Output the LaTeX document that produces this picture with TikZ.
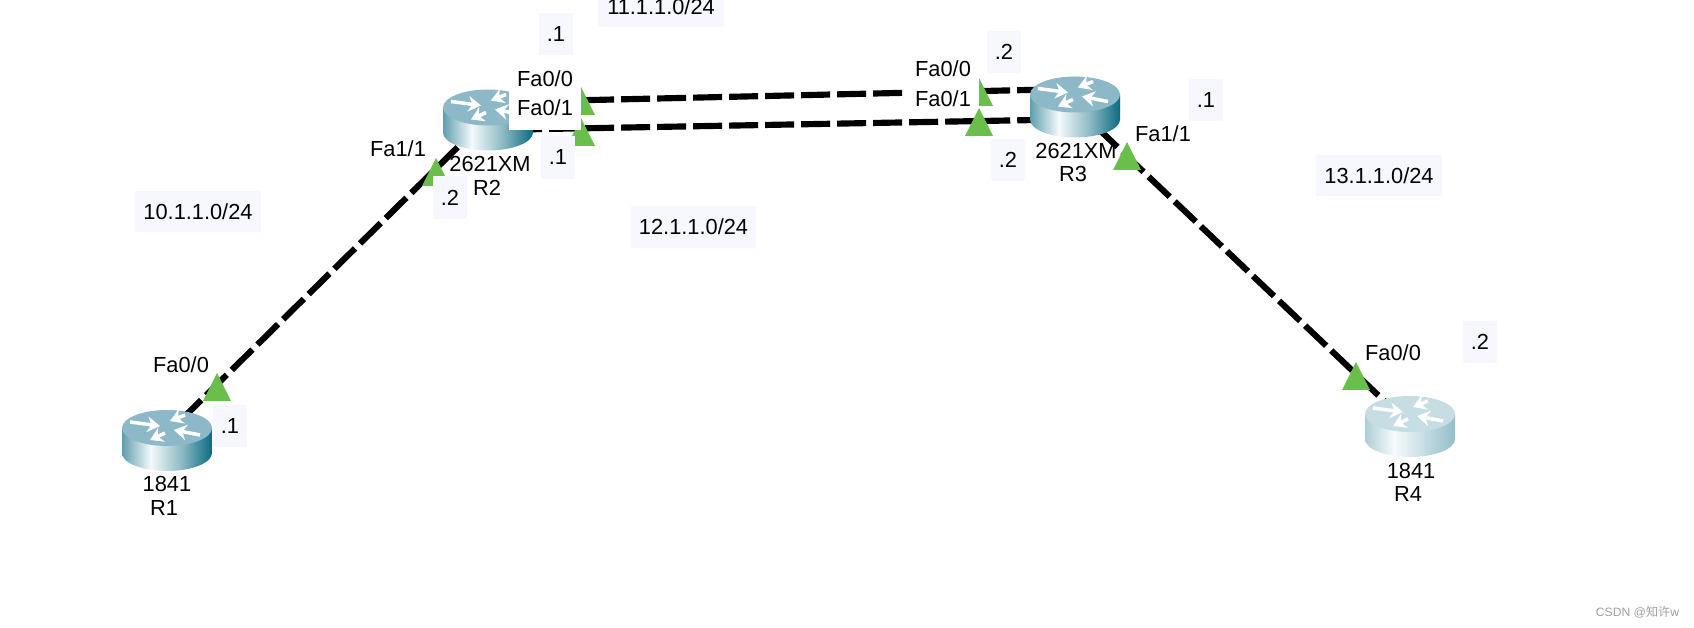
\documentclass[tikz,border=0pt]{standalone}
\usepackage{fontspec}
\setmainfont{Liberation Sans}
\newfontfamily\cjk{Noto Sans CJK SC}
\usetikzlibrary{positioning, arrows.meta}

\definecolor{portgreen}{HTML}{6ABF4B}
\definecolor{notebg}{HTML}{F7F8FF}
\definecolor{routertop}{HTML}{8DB8C8}
\definecolor{routertopfade}{HTML}{C6DDE4}
\definecolor{sideA}{HTML}{5F9FAE}
\definecolor{sideB}{HTML}{F4FAFB}
\definecolor{sideC}{HTML}{8DBAC5}
\definecolor{sideD}{HTML}{0B6B80}
\definecolor{fadeA}{HTML}{ABCDD5}
\definecolor{fadeB}{HTML}{F7FBFC}
\definecolor{fadeC}{HTML}{C4DDE3}
\definecolor{fadeD}{HTML}{93BEC9}
\pgfdeclarehorizontalshading{routerside}{100bp}{color(0bp)=(sideA); color(25bp)=(sideA); color(41bp)=(sideB); color(58bp)=(sideC); color(75bp)=(sideD); color(100bp)=(sideD)}
\pgfdeclarehorizontalshading{routerfade}{100bp}{color(0bp)=(fadeA); color(25bp)=(fadeA); color(41bp)=(fadeB); color(58bp)=(fadeC); color(75bp)=(fadeD); color(100bp)=(fadeD)}

\tikzset{
  routernode/.style={minimum width=0.5cm, minimum height=0.4cm, inner sep=0pt, outer sep=0pt},
  linkline/.style={line width=1.75pt, dash pattern=on 0.29cm off 0.07cm},
  plaintext/.style={font=\fontsize{6.2}{7}\selectfont, inner sep=0pt},
  notebox/.style={plaintext, fill=notebg, minimum height=0.42cm, minimum width=0.34cm},
  netbox/.style={plaintext, fill=notebg, minimum height=0.41cm, minimum width=1.25cm},
  routerarrow/.style={white, line width=1pt, -{Stealth[length=3.6pt, width=4.4pt]}},
  porttri/.pic={\fill[portgreen] (0,0) -- (14,28) -- (-14,28) -- cycle;}
}

\begin{document}
\begin{tikzpicture}[x=0.01cm, y=-0.01cm]
  \useasboundingbox (0,0) rectangle (1694,628);

  % routers (anchors only, the bodies go over the links)
  \node[routernode] (R1) at (167,440.5) {};
  \node[routernode] (R2) at (488,120) {};
  \node[routernode] (R3) at (1075,107) {};
  \node[routernode] (R4) at (1410,426.5) {};

  % links
  \draw[linkline] (R1.56) -- (R2.221);
  \draw[linkline] (R2.36) -- (R3.145);
  \draw[linkline] (R2.339) -- (R3.207);
  \draw[linkline] (R3.317) -- (R4.135);

  % router bodies
  \foreach \rname/\rside/\rtop in {R1/routerside/routertop, R2/routerside/routertop, R3/routerside/routertop, R4/routerfade/routertopfade} {
    \begin{scope}[shift={(\rname)}]
      \shade[shading=\rside] (-45,-12.5) -- (-45,12.5) arc[start angle=180, end angle=0, x radius=45, y radius=18] -- (45,-12.5) -- cycle;
      \fill[\rtop] (0,-12.5) ellipse [x radius=45, y radius=18];
      \draw[routerarrow] (-37,-18.5) -- (-7,-14.5);
      \draw[routerarrow] (33,-5.5) -- (7,-10.5);
      \draw[routerarrow] (18,-25.5) -- (3,-19.5);
      \draw[routerarrow] (-2,-7.5) -- (-17,-0.5);
    \end{scope}
  }

  % port triangles
  \pic at (217,373) {porttri};
  \pic at (436,158) {porttri};
  \pic at (581,87) {porttri};
  \pic at (581,118) {porttri};
  \pic at (979,78) {porttri};
  \pic at (979,108) {porttri};
  \pic at (1127,142) {porttri};
  \pic at (1356,362) {porttri};

  % port labels
  \fill[white] (509,68) rectangle (581,130);
  \fill[white] (907,60) rectangle (979,108);
  \node[plaintext] (r1fa) at (181,365) {Fa0/0};
  \node[plaintext] (r2faa) at (398,149) {Fa1/1};
  \node[plaintext] (r2fab) at (545,79) {Fa0/0};
  \node[plaintext] (r2fac) at (545,108) {Fa0/1};
  \node[plaintext] (r3fab) at (943,69) {Fa0/0};
  \node[plaintext] (r3fac) at (943,99) {Fa0/1};
  \node[plaintext] (r3faa) at (1163,134) {Fa1/1};
  \node[plaintext] (r4fa) at (1393,353) {Fa0/0};

  % router names
  \node[plaintext] (r1model) at (167,484) {1841};
  \node[plaintext] (r1name) at (164,508) {R1};
  \node[plaintext] (r2model) at (490,164) {2621XM};
  \node[plaintext] (r2name) at (487,188) {R2};
  \node[plaintext] (r3model) at (1076,151) {2621XM};
  \node[plaintext] (r3name) at (1073,174) {R3};
  \node[plaintext] (r4model) at (1411,471) {1841};
  \node[plaintext] (r4name) at (1408,494) {R4};

  % address notes
  \node[notebox] (n1) at (230,426) {.1};
  \node[notebox] (n2) at (450,197.5) {.2};
  \node[notebox] (n3) at (556,34) {.1};
  \node[notebox] (n4) at (558,157.5) {.1};
  \node[notebox] (n5) at (1004,52) {.2};
  \node[notebox] (n6) at (1008,160) {.2};
  \node[notebox] (n7) at (1206,100) {.1};
  \node[notebox] (n8) at (1480,342) {.2};

  % subnets
  \node[netbox] (net10) at (198,211.5) {10.1.1.0/24};
  \node[netbox] (net11) at (661,6.5) {11.1.1.0/24};
  \node[netbox] (net12) at (693.5,227) {12.1.1.0/24};
  \node[netbox] (net13) at (1379,175.5) {13.1.1.0/24};

  \node[font=\fontsize{3.45}{4}\selectfont, text=gray!75, inner sep=0pt] (mark) at (1637.5,612.5) {CSDN @{\cjk 知许}w};
\end{tikzpicture}
\end{document}
